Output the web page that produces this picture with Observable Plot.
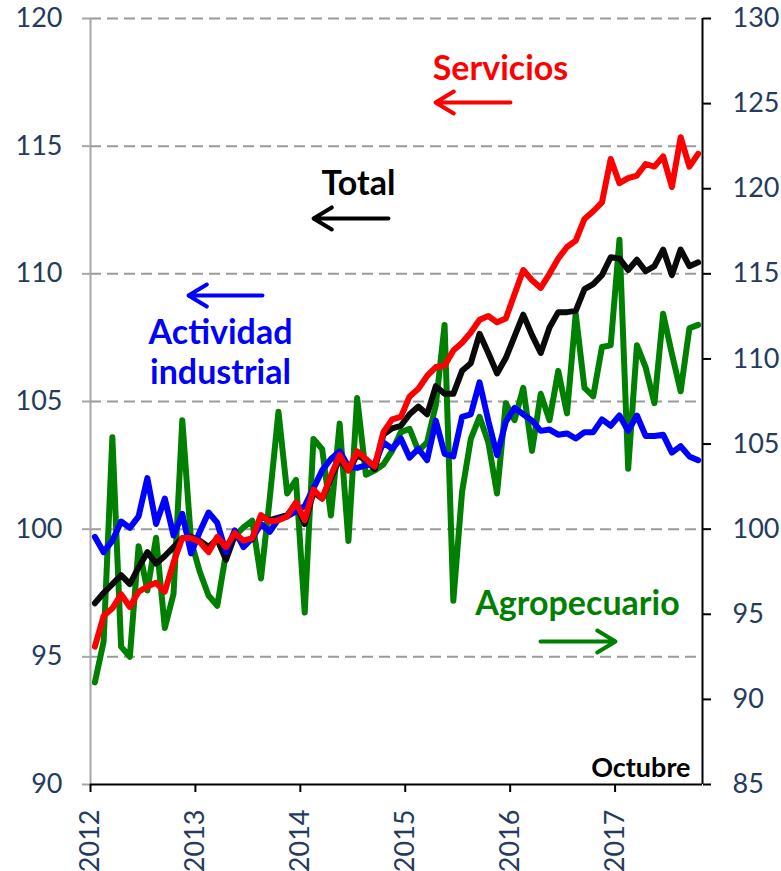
<!DOCTYPE html>
<html>
<head>
<meta charset="utf-8">
<script src="https://cdn.jsdelivr.net/npm/d3@7"></script>
<script src="https://cdn.jsdelivr.net/npm/@observablehq/plot@0.6"></script>
<style>
  html, body { margin: 0; padding: 0; background: #ffffff; }
  #chart svg { display: block; background: #ffffff; }
</style>
</head>
<body>
<div id="chart"></div>
<script>
// ---- categories: monthly, Jan 2012 .. Oct 2017 ----
const years = [2012, 2013, 2014, 2015, 2016, 2017];
const months = d3.utcMonths(new Date(Date.UTC(2012, 0, 1)), new Date(Date.UTC(2017, 10, 1)));

// ---- series (left axis) ----
const total = [
  97.1, 97.5, 97.85, 98.2, 97.85, 98.5, 99.1, 98.65, 98.95, 99.3, 99.65, 99.7,
  99.55, 99.3, 99.6, 98.8, 99.75, 99.5, 99.6, 100.5, 100.35, 100.45, 100.55, 101.0,
  100.2, 101.45, 101.2, 102.0, 102.75, 102.3, 102.9, 102.7, 102.35, 103.7, 103.95, 104.05,
  104.5, 104.8, 104.5, 105.6, 105.3, 105.3, 106.2, 106.5, 107.65, 106.9, 106.1, 106.7,
  107.55, 108.4, 107.6, 106.9, 107.9, 108.5, 108.5, 108.55, 109.4, 109.6, 109.95, 110.65,
  110.6, 110.15, 110.55, 110.1, 110.3, 110.95, 109.95, 110.95, 110.3, 110.45
];
const servicios = [
  95.4, 96.6, 96.9, 97.45, 96.95, 97.55, 97.75, 97.9, 97.55, 98.7, 99.65, 99.65,
  99.5, 99.1, 99.7, 99.3, 99.85, 99.55, 99.65, 100.55, 100.3, 100.35, 100.5, 101.05,
  100.35, 101.55, 101.2, 102.1, 102.9, 102.3, 103.05, 102.75, 102.45, 103.8, 104.3, 104.4,
  105.2, 105.5, 106.0, 106.35, 106.4, 107.0, 107.3, 107.7, 108.2, 108.35, 108.1, 108.25,
  109.2, 110.15, 109.75, 109.45, 110.0, 110.6, 111.05, 111.3, 112.15, 112.45, 112.8, 114.5,
  113.55, 113.75, 113.85, 114.3, 114.2, 114.6, 113.4, 115.35, 114.2, 114.7
];
const industrial = [
  99.7, 99.1, 99.55, 100.3, 100.05, 100.5, 102.0, 100.2, 101.2, 99.75, 100.6, 99.05,
  99.9, 100.65, 100.25, 99.1, 99.95, 99.3, 99.65, 100.2, 99.9, 100.4, 100.5, 100.7,
  100.9, 101.6, 102.3, 102.75, 103.05, 102.45, 102.4, 102.5, 102.55, 103.4, 103.15, 103.55,
  102.8, 103.15, 102.7, 104.25, 102.95, 102.85, 104.4, 104.5, 105.75, 104.25, 102.9, 104.2,
  104.75, 104.5, 104.25, 103.85, 103.9, 103.7, 103.75, 103.55, 103.8, 103.8, 104.3, 104.05,
  104.45, 103.85, 104.45, 103.65, 103.65, 103.7, 103.0, 103.25, 102.85, 102.7
];
// ---- series (right axis) ----
const agropecuario = [
  91.0, 93.4, 105.4, 93.1, 92.5, 99.0, 96.4, 99.5, 94.2, 96.2, 106.4, 99.3,
  97.5, 96.1, 95.5, 98.6, 99.6, 100.1, 100.5, 97.1, 101.8, 106.9, 102.1, 102.9,
  95.1, 105.3, 104.7, 100.8, 106.2, 99.3, 107.7, 103.2, 103.45, 103.8, 104.6, 105.7,
  105.9, 104.6, 105.1, 107.3, 112.0, 95.8, 102.2, 105.3, 106.6, 105.1, 102.1, 107.4,
  106.4, 108.3, 104.6, 107.95, 106.4, 109.3, 106.8, 112.65, 108.3, 107.8, 110.7, 110.8,
  117.0, 103.55, 110.8, 109.5, 107.4, 112.65, 110.3, 108.1, 111.8, 112.0
];

// ---- tick labels ----
const leftTicks = [90, 95, 100, 105, 110, 115, 120];
const gridTicks = [95, 100, 105, 110, 115, 120];
const rightTicks = [85, 90, 95, 100, 105, 110, 115, 120, 125, 130];

// ---- annotation texts ----
const seriesNames = ["Servicios", "Total", "Actividad\nindustrial", "Agropecuario"];
const noteText = "Octubre";

// ---- derived ----
const L0 = 90, L1 = 120, R0 = 85, R1 = 130;
const toLeft = r => L0 + (r - R0) * (L1 - L0) / (R1 - R0);
const toRight = l => R0 + (l - L0) * (R1 - R0) / (L1 - L0);

const rows = (vals, conv = v => v) => vals.map((v, i) => ({month: months[i], x: i + 0.5, y: conv(v)}));

const FONT = "Lato, 'Open Sans', sans-serif";
const TICKCOL = "#243a5e";

const labels = [
  {text: seriesNames[0], x: 46.9, y: 118.08, color: "#ff0000"},
  {text: seriesNames[1], x: 30.65, y: 113.58, color: "#000000"},
  {text: seriesNames[2], x: 14.87, y: 106.96, color: "#0000ff"},
  {text: seriesNames[3], x: 55.7, y: 97.13, color: "#008000"}
];
const arrows = [
  {x1: 48.04, x2: 39.46, y: 116.71, color: "#ff0000"},
  {x1: 34.08, x2: 25.51, y: 112.17, color: "#000000"},
  {x1: 19.67, x2: 11.21, y: 109.15, color: "#0000ff"},
  {x1: 51.47, x2: 60.05, y: 95.6, color: "#008000"}
];

const lineOpts = {x: "x", y: "y", strokeWidth: 6, strokeLinejoin: "round", strokeLinecap: "round"};

const chart = Plot.plot({
  width: 781,
  height: 871,
  marginLeft: 90,
  marginRight: 79,
  marginTop: 18,
  marginBottom: 87,
  style: {fontFamily: FONT, background: "#ffffff", overflow: "visible"},
  x: {domain: [0, months.length], axis: null},
  y: {domain: [L0, L1], axis: null},
  marks: [
    Plot.gridY(gridTicks, {stroke: "#9a9a9a", strokeOpacity: 1, strokeWidth: 2, strokeDasharray: "11,6"}),
    Plot.line(rows(agropecuario, toLeft), {...lineOpts, stroke: "#008000"}),
    Plot.line(rows(total), {...lineOpts, stroke: "#0a0a0a"}),
    Plot.line(rows(industrial), {...lineOpts, stroke: "#0000ff"}),
    Plot.line(rows(servicios), {...lineOpts, stroke: "#ff0000"}),
    // axis lines
    Plot.ruleX([0], {stroke: "#a6a6a6", strokeWidth: 2}),
    Plot.ruleX([months.length], {stroke: "#000000", strokeWidth: 2}),
    Plot.ruleY([L0], {stroke: "#000000", strokeWidth: 2}),
    // left axis
    Plot.axisY(leftTicks, {anchor: "left", tickSize: 8, tickPadding: 20, fontSize: 27,
      stroke: "#a6a6a6", strokeWidth: 2, fill: TICKCOL, label: null, tickFormat: d => String(d)}),
    // right axis
    Plot.axisY(rightTicks.map(toLeft), {anchor: "right", tickSize: 8, tickPadding: 22, fontSize: 27,
      stroke: "#000000", strokeWidth: 2, fill: TICKCOL, label: null,
      tickFormat: d => String(Math.round(toRight(d)))}),
    // bottom axis
    Plot.axisX(years.map((y, k) => k * 12), {anchor: "bottom", tickSize: 8, tickPadding: 17, fontSize: 27,
      tickRotate: -90, stroke: "#000000", strokeWidth: 2, fill: TICKCOL, label: null,
      tickFormat: d => String(years[Math.round(d / 12)])}),
    // annotations
    Plot.text(labels, {x: "x", y: "y", text: "text", fill: "color", fontSize: 34, fontWeight: "bold",
      lineHeight: 1.16, textAnchor: "middle"}),
    Plot.arrow(arrows, {x1: "x1", x2: "x2", y1: "y", y2: "y", stroke: "color", strokeWidth: 4,
      headLength: 8, headAngle: 62}),
    Plot.text([noteText], {x: 68.63, y: 90.63, text: d => d, fontSize: 27, fontWeight: "bold",
      fill: "#000000", textAnchor: "end"})
  ]
});

document.getElementById("chart").appendChild(chart);
</script>
</body>
</html>
